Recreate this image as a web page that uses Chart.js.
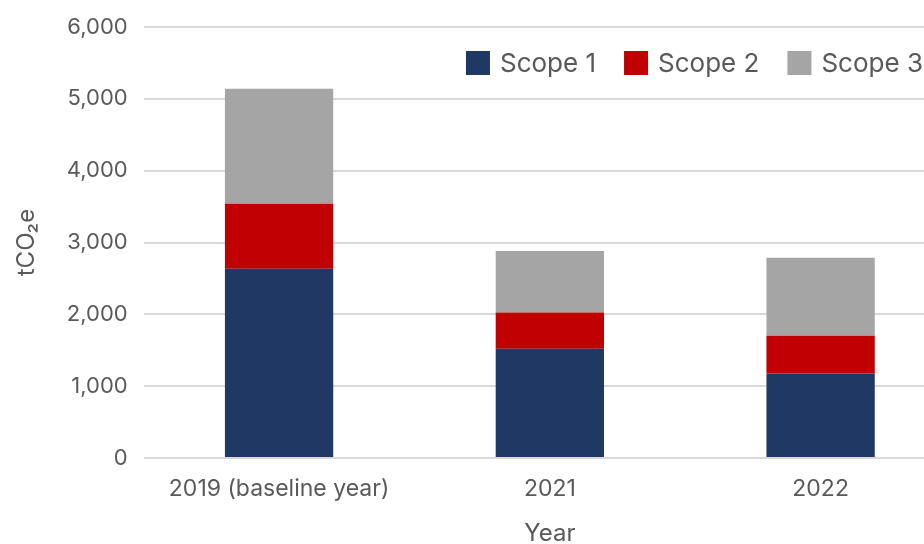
<!DOCTYPE html>
<html>
<head>
<meta charset="utf-8">
<script src="https://cdn.jsdelivr.net/npm/chart.js@4"></script>
<style>
  html, body { margin: 0; padding: 0; background: #fff; overflow: hidden; }
  #wrap { width: 960px; height: 544px; }
</style>
</head>
<body>
<div id="wrap"><canvas id="myChart" width="960" height="544"></canvas></div>
<script>
const years = ["2019 (baseline year)", "2021", "2022"];
const scope1 = [2634, 1521, 1178];
const scope2 = [905, 505, 524];
const scope3 = [1601, 858, 1085];
const yTicks = [0, 1000, 2000, 3000, 4000, 5000, 6000];

const FONT = "Inter, 'Liberation Sans', sans-serif";
const GREY_TEXT = "#595959";

// legend drawn inside the plot, top right, like the original
const insideLegend = {
  id: "insideLegend",
  afterDraw(chart) {
    const ctx = chart.ctx;
    const area = chart.chartArea;
    const box = 24, gap = 10, spacing = 28;
    ctx.save();
    ctx.font = "26px " + FONT;
    ctx.textBaseline = "middle";
    const items = chart.data.datasets.map(ds => ({
      label: ds.label, color: ds.backgroundColor, w: ctx.measureText(ds.label).width
    }));
    let total = items.reduce((s, it) => s + box + gap + it.w, 0) + spacing * (items.length - 1);
    let x = area.right - 33 - total;
    const y = 63;
    items.forEach(it => {
      ctx.fillStyle = it.color;
      ctx.fillRect(x, y - box / 2, box, box);
      ctx.fillStyle = GREY_TEXT;
      ctx.fillText(it.label, x + box + gap, y + 1);
      x += box + gap + it.w + spacing;
    });
    ctx.restore();
  }
};

new Chart(document.getElementById("myChart"), {
  type: "bar",
  data: {
    labels: years,
    datasets: [
      { label: "Scope 1", data: scope1, backgroundColor: "#203864" },
      { label: "Scope 2", data: scope2, backgroundColor: "#C00000" },
      { label: "Scope 3", data: scope3, backgroundColor: "#A5A5A5" }
    ]
  },
  options: {
    responsive: false,
    animation: false,
    layout: { padding: { top: 8, right: 4, left: 12, bottom: -4.5 } },
    datasets: { bar: { barPercentage: 0.4, categoryPercentage: 1 } },
    plugins: {
      legend: { display: false },
      tooltip: { enabled: false }
    },
    scales: {
      x: {
        stacked: true,
        grid: { display: false, drawTicks: false },
        border: { display: false },
        ticks: { color: GREY_TEXT, font: { family: FONT, size: 23 }, padding: 17, maxRotation: 0 },
        title: { display: true, text: "Year", color: GREY_TEXT, font: { family: FONT, size: 24 }, padding: { top: 0, bottom: 0 } }
      },
      y: {
        stacked: true,
        min: 0,
        max: 6000,
        afterBuildTicks: axis => { axis.ticks = yTicks.map(v => ({ value: v })); },
        grid: { color: "#D9D9D9", lineWidth: 2, drawTicks: false },
        border: { display: false },
        ticks: {
          color: GREY_TEXT,
          font: { family: FONT, size: 22, lineHeight: 1 },
          padding: 16,
          callback: v => v.toLocaleString("en-US")
        },
        title: { display: true, text: "tCO₂e", color: GREY_TEXT, font: { family: FONT, size: 24 }, padding: { top: 0, bottom: 10 } }
      }
    }
  },
  plugins: [insideLegend]
});
</script>
</body>
</html>
